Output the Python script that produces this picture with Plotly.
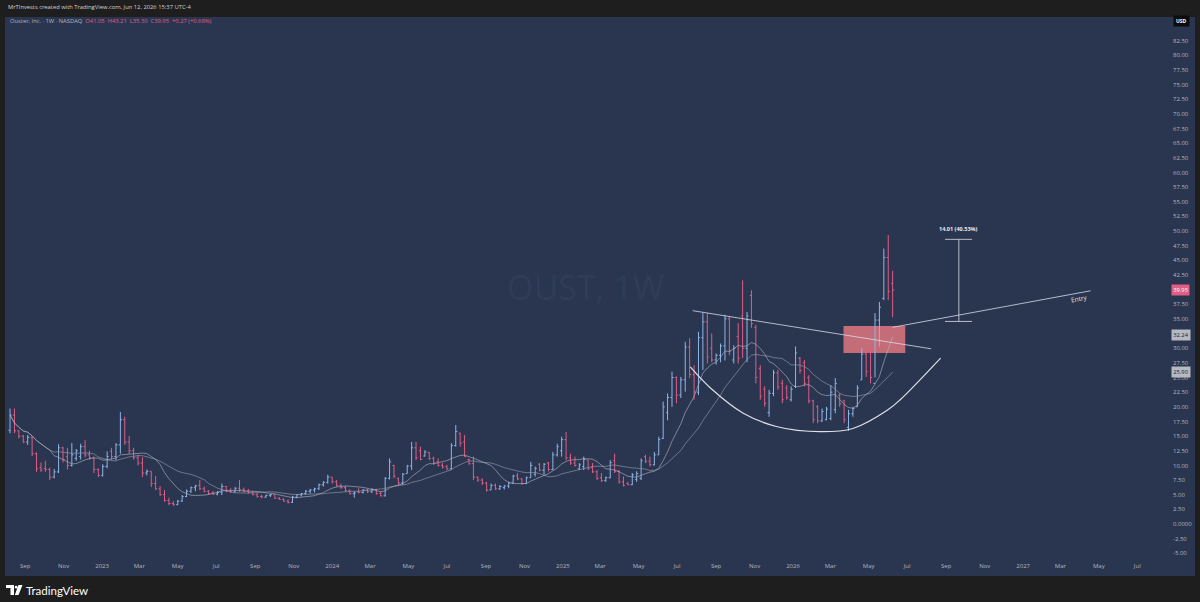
import pandas as pd
import numpy as np
import plotly.graph_objects as go

# ---------------- data (weekly OHLC, OUST) ----------------
week_start = "2022-08-08"
opens = [16.0, 18.6, 15.9, 15.0, 14.0, 14.8, 12.0, 9.6, 9.5, 9.3,
         8.0, 8.9, 13.0, 11.5, 10.0, 11.2, 11.5, 13.2, 11.8, 11.3,
         9.3, 8.3, 9.8, 12.4, 11.5, 13.5, 17.8, 14.0, 12.5, 11.3,
         10.4, 8.7, 9.0, 6.9, 6.0, 5.0, 4.0, 3.5, 3.3, 3.9,
         4.7, 5.6, 6.2, 6.6, 6.0, 5.6, 5.3, 5.1, 5.4, 6.4,
         5.6, 5.5, 6.1, 5.9, 5.6, 5.4, 5.0, 4.7, 4.6, 4.9,
         5.0, 4.4, 4.2, 3.9, 3.7, 4.6, 5.0, 5.2, 5.6, 5.8,
         6.0, 6.7, 7.1, 8.0, 7.2, 6.6, 6.2, 5.7, 5.2, 5.5,
         5.4, 5.8, 5.5, 5.9, 5.2, 4.8, 7.8, 10.0, 7.8, 7.0,
         8.6, 9.9, 13.0, 12.5, 11.6, 12.2, 11.2, 10.6, 10.0, 9.8,
         9.4, 13.4, 15.5, 14.0, 11.0, 10.3, 8.0, 7.5, 7.0, 5.8,
         6.6, 6.0, 6.2, 6.5, 7.0, 8.2, 7.7, 6.9, 7.9, 8.5,
         10.2, 9.2, 10.4, 9.3, 11.8, 12.5, 14.4, 11.3, 10.4, 9.4,
         9.8, 10.9, 9.6, 8.9, 7.9, 7.4, 7.9, 10.8, 9.0, 7.2,
         6.9, 6.7, 7.6, 7.8, 11.5, 10.7, 10.1, 11.8, 14.6, 19.0,
         21.6, 25.0, 22.0, 24.6, 30.2, 25.5, 22.5, 31.8, 34.5, 30.0,
         28.0, 28.8, 30.4, 35.0, 28.0, 32.0, 35.5, 30.0, 39.0, 33.5,
         26.5, 23.0, 19.0, 22.3, 25.8, 24.0, 23.2, 21.2, 23.5, 28.3,
         27.5, 25.0, 21.0, 20.0, 17.6, 17.8, 18.0, 19.5, 22.0, 21.0,
         16.5, 18.8, 20.0, 24.6, 29.0, 30.0, 24.0, 34.8, 38.5, 45.5,
         41.05]
highs = [19.7, 19.7, 16.0, 15.2, 15.2, 14.9, 12.2, 10.5, 10.8, 9.6,
         9.4, 13.6, 13.2, 13.0, 13.8, 12.8, 13.7, 14.3, 12.5, 11.5,
         9.5, 10.2, 12.4, 13.0, 13.8, 19.1, 18.3, 15.0, 13.0, 11.8,
         11.4, 9.3, 9.0, 8.2, 6.5, 5.8, 4.5, 3.9, 4.1, 4.95,
         5.9, 6.4, 6.7, 7.5, 6.4, 5.8, 5.6, 5.6, 6.9, 6.5,
         6.1, 6.3, 7.5, 6.2, 6.0, 5.6, 5.3, 5.0, 5.0, 5.1,
         5.0, 4.6, 4.4, 4.2, 4.8, 5.1, 5.3, 5.8, 6.0, 6.2,
         6.9, 7.3, 8.4, 8.0, 7.5, 6.9, 6.5, 5.9, 5.6, 6.1,
         6.0, 6.0, 6.1, 6.0, 5.5, 8.0, 11.2, 10.1, 7.9, 8.7,
         10.1, 14.0, 14.0, 13.2, 12.6, 12.3, 11.5, 11.2, 10.4, 10.1,
         13.8, 16.9, 15.6, 15.2, 11.2, 11.5, 8.1, 7.8, 7.2, 6.9,
         6.9, 6.65, 6.6, 7.2, 8.4, 8.7, 7.8, 8.1, 10.6, 9.8,
         10.4, 10.4, 10.6, 12.3, 13.7, 14.9, 15.7, 12.0, 11.5, 10.4,
         11.5, 10.9, 10.4, 9.2, 8.7, 8.1, 10.9, 12.0, 9.2, 8.1,
         7.2, 8.7, 9.0, 11.2, 11.8, 11.5, 12.3, 14.9, 20.9, 22.3,
         26.0, 25.2, 25.1, 31.1, 31.7, 27.1, 32.8, 36.0, 36.0, 32.5,
         29.1, 30.8, 35.7, 35.4, 30.5, 34.3, 41.6, 36.2, 39.9, 34.0,
         27.1, 23.5, 22.9, 26.3, 26.3, 24.6, 23.7, 23.5, 30.3, 28.5,
         28.0, 25.4, 21.2, 20.3, 19.7, 20.0, 23.7, 24.9, 22.3, 21.2,
         19.5, 20.0, 23.7, 30.0, 29.7, 30.3, 36.0, 37.9, 47.0, 49.3,
         43.21]
lows = [15.5, 15.5, 14.6, 13.8, 13.5, 11.6, 8.9, 8.9, 8.9, 7.5,
        7.8, 8.7, 10.5, 9.3, 9.8, 10.8, 11.0, 11.4, 11.0, 8.7,
        8.0, 8.1, 9.5, 11.0, 10.9, 12.0, 13.5, 12.0, 11.0, 10.0,
        8.0, 8.3, 6.3, 5.8, 4.8, 3.8, 3.2, 3.1, 3.2, 3.8,
        4.6, 5.3, 5.6, 5.8, 5.4, 5.0, 4.95, 4.9, 4.95, 5.4,
        5.3, 5.4, 5.5, 5.4, 5.2, 4.9, 4.5, 4.4, 4.5, 4.6,
        4.3, 4.1, 3.8, 3.5, 3.6, 4.4, 4.7, 5.0, 5.2, 5.4,
        5.8, 6.4, 6.9, 6.9, 6.4, 6.0, 5.5, 5.0, 4.5, 5.2,
        5.2, 5.3, 5.3, 5.0, 4.7, 4.7, 7.6, 7.8, 6.65, 6.65,
        8.6, 9.2, 10.9, 10.9, 11.5, 10.9, 10.1, 9.8, 9.5, 9.2,
        9.3, 13.2, 13.2, 11.5, 10.1, 7.5, 7.2, 6.65, 5.5, 5.8,
        5.8, 5.8, 5.9, 6.1, 6.9, 7.5, 6.65, 6.9, 7.9, 8.1,
        9.0, 8.4, 9.0, 9.2, 11.5, 11.5, 10.9, 10.1, 9.8, 9.2,
        9.2, 9.2, 8.7, 7.5, 7.2, 7.2, 7.8, 8.7, 6.9, 6.4,
        6.65, 6.65, 7.2, 7.5, 10.4, 9.8, 10.0, 11.8, 14.5, 17.7,
        20.0, 20.6, 21.5, 22.6, 24.9, 21.2, 22.0, 26.3, 27.4, 27.6,
        27.2, 27.6, 27.9, 28.8, 27.4, 27.4, 28.3, 27.6, 33.5, 24.0,
        21.2, 20.0, 18.3, 21.8, 22.9, 20.6, 21.2, 20.9, 23.2, 25.7,
        23.5, 20.6, 17.2, 17.2, 17.4, 17.7, 17.7, 18.9, 20.0, 17.2,
        15.9, 18.3, 20.0, 24.6, 25.1, 24.0, 25.0, 30.3, 38.2, 38.2,
        35.30]
closes = [18.6, 15.9, 15.0, 14.0, 14.8, 12.0, 9.4, 9.2, 9.3, 8.0,
          8.9, 13.0, 11.0, 10.0, 11.8, 12.5, 13.2, 11.8, 11.3, 9.3,
          8.3, 9.8, 11.5, 11.5, 13.5, 17.8, 14.0, 12.5, 11.3, 10.4,
          8.7, 9.0, 6.9, 6.0, 5.0, 4.0, 3.5, 3.3, 3.9, 4.7,
          5.6, 6.2, 6.5, 6.0, 5.6, 5.2, 5.1, 5.4, 6.4, 5.6,
          5.5, 6.1, 5.8, 5.6, 5.4, 5.0, 4.7, 4.6, 4.9, 5.0,
          4.4, 4.2, 3.9, 3.7, 4.6, 5.0, 5.2, 5.6, 5.8, 6.0,
          6.7, 7.1, 8.0, 7.2, 6.6, 6.2, 5.7, 5.2, 5.3, 5.4,
          5.8, 5.5, 5.9, 5.2, 4.8, 7.8, 10.6, 8.2, 7.0, 8.5,
          9.9, 13.0, 11.3, 11.0, 12.3, 11.2, 10.4, 10.0, 9.7, 9.4,
          13.4, 15.8, 13.8, 11.5, 10.3, 8.0, 7.5, 7.0, 5.8, 6.6,
          6.0, 6.4, 6.5, 7.0, 8.2, 7.7, 6.9, 7.9, 10.0, 9.5,
          9.2, 10.2, 9.3, 11.8, 13.2, 14.4, 11.3, 10.4, 10.0, 10.1,
          11.0, 9.5, 8.9, 7.8, 7.4, 7.9, 10.5, 9.0, 7.2, 6.6,
          6.7, 8.4, 8.6, 10.8, 10.7, 10.1, 11.8, 14.4, 20.0, 21.6,
          25.0, 22.0, 24.6, 30.2, 25.5, 22.5, 31.8, 34.5, 28.5, 28.0,
          28.8, 30.4, 35.0, 29.5, 30.0, 28.3, 30.0, 35.5, 34.2, 25.0,
          21.8, 20.6, 22.3, 25.8, 23.4, 21.2, 21.6, 23.0, 29.2, 26.2,
          24.0, 21.0, 17.8, 17.6, 19.2, 19.6, 22.5, 24.0, 20.5, 17.8,
          18.8, 19.7, 23.2, 29.0, 26.0, 25.0, 34.8, 37.0, 45.5, 39.68,
          39.95]

# axis ticks
tick_dates = ["2022-09-01", "2022-11-01",
              "2023-01-01", "2023-03-01", "2023-05-01", "2023-07-01", "2023-09-01", "2023-11-01",
              "2024-01-01", "2024-03-01", "2024-05-01", "2024-07-01", "2024-09-01", "2024-11-01",
              "2025-01-01", "2025-03-01", "2025-05-01", "2025-07-01", "2025-09-01", "2025-11-01",
              "2026-01-01", "2026-03-01", "2026-05-01", "2026-07-01", "2026-09-01", "2026-11-01",
              "2027-01-01", "2027-03-01", "2027-05-01", "2027-07-01"]
tick_labels = ["Sep", "Nov",
               "2023", "Mar", "May", "Jul", "Sep", "Nov",
               "2024", "Mar", "May", "Jul", "Sep", "Nov",
               "2025", "Mar", "May", "Jul", "Sep", "Nov",
               "2026", "Mar", "May", "Jul", "Sep", "Nov",
               "2027", "Mar", "May", "Jul"]
price_ticks = [round(v, 2) for v in np.arange(-5.0, 82.51, 2.5)]
price_tick_labels = ["0.0000" if v == 0 else f"{v:.2f}" for v in price_ticks]

# drawings
neck_dates = ["2025-07-26", "2026-08-08"]
neck_prices = [36.4, 29.9]
entry_dates = ["2026-06-08", "2027-04-18"]
entry_prices = [33.57, 39.8]
zone_dates = ["2026-03-22", "2026-06-28"]
zone_prices = [29.2, 33.8]
measure_date = "2026-09-21"
measure_cap_dates = ["2026-08-30", "2026-10-12"]
measure_prices = [34.57, 48.58]
cup_dates = ["2025-07-22", "2025-08-23", "2025-10-14", "2025-12-07", "2026-02-13",
             "2026-04-06", "2026-05-31", "2026-06-20", "2026-08-23"]
cup_prices = [26.8, 23.2, 18.9, 16.6, 15.75, 16.3, 19.45, 21.2, 28.3]

# ---------------- figure ----------------
dates = pd.date_range(week_start, periods=len(closes), freq="7D")
s = pd.Series(closes)
sma10 = s.rolling(10, min_periods=1).mean()
sma20 = s.rolling(20, min_periods=1).mean()

NAVY = "#2a3550"
DARK = "#1e1e1e"
GRAY = "#b2b5be"
UP = "#8fb6e6"
DOWN = "#e05d86"
FONT = "Open Sans"

W, H = 1200, 602
ML, MR, MT, MB = 5, 35, 17, 45
PW, PH = W - ML - MR, H - MT - MB


def fx(px):
    return (px - ML) / PW


def fy(py):
    return 1 - (py - MT) / PH


fig = go.Figure()

fig.add_trace(go.Scatter(x=dates, y=sma20, mode="lines",
                         line=dict(color="rgba(150,156,170,0.7)", width=0.9),
                         hoverinfo="skip", showlegend=False))
fig.add_trace(go.Scatter(x=dates, y=sma10, mode="lines",
                         line=dict(color="rgba(175,180,192,0.7)", width=0.9),
                         hoverinfo="skip", showlegend=False))

fig.add_trace(go.Ohlc(x=dates, open=opens, high=highs, low=lows, close=closes,
                      increasing=dict(line=dict(color=UP, width=1)),
                      decreasing=dict(line=dict(color=DOWN, width=1)),
                      tickwidth=0.35, hoverinfo="skip", showlegend=False))

fig.add_trace(go.Scatter(x=cup_dates, y=cup_prices, mode="lines",
                         line=dict(color="rgba(235,238,245,0.92)", width=1.2, shape="spline", smoothing=1.0),
                         hoverinfo="skip", showlegend=False))

shapes = []
# chart panel background
shapes.append(dict(type="rect", xref="paper", yref="paper", x0=fx(5), x1=fx(1195),
                   y0=fy(576), y1=fy(17), fillcolor=NAVY, line=dict(width=0), layer="below"))
# pink zone
shapes.append(dict(type="rect", xref="x", yref="y", x0=zone_dates[0], x1=zone_dates[1],
                   y0=zone_prices[0], y1=zone_prices[1], fillcolor="#c46c77",
                   line=dict(width=0), layer="below"))
LINEC = "rgba(215,220,230,0.8)"
shapes.append(dict(type="line", xref="x", yref="y", x0=neck_dates[0], x1=neck_dates[1],
                   y0=neck_prices[0], y1=neck_prices[1], line=dict(color=LINEC, width=1)))
shapes.append(dict(type="line", xref="x", yref="y", x0=entry_dates[0], x1=entry_dates[1],
                   y0=entry_prices[0], y1=entry_prices[1], line=dict(color=LINEC, width=1)))
MEASC = "rgba(200,203,212,0.9)"
shapes.append(dict(type="line", xref="x", yref="y", x0=measure_date, x1=measure_date,
                   y0=measure_prices[0], y1=measure_prices[1], line=dict(color=MEASC, width=1)))
for p in measure_prices:
    shapes.append(dict(type="line", xref="x", yref="y", x0=measure_cap_dates[0], x1=measure_cap_dates[1],
                       y0=p, y1=p, line=dict(color=MEASC, width=1)))

# TradingView logo glyph (bottom-left)
def rect_px(x0, y0, x1, y1, color="white"):
    return dict(type="rect", xref="paper", yref="paper", x0=fx(x0), x1=fx(x1),
                y0=fy(y1), y1=fy(y0), fillcolor=color, line=dict(width=0))

shapes.append(rect_px(6, 585, 14, 588))
shapes.append(rect_px(10.5, 585, 14, 595))
shapes.append(dict(type="circle", xref="paper", yref="paper", x0=fx(14.8), x1=fx(17.6),
                   y0=fy(588.6), y1=fy(585.8), fillcolor="white", line=dict(width=0)))
shapes.append(dict(type="path", xref="paper", yref="paper",
                   path=f"M {fx(18.5)},{fy(585)} L {fx(22.5)},{fy(585)} L {fx(18.5)},{fy(595)} L {fx(14.8)},{fy(595)} Z",
                   fillcolor="white", line=dict(width=0)))

ann = []
# top header
ann.append(dict(xref="paper", yref="paper", x=fx(6), y=fy(7.5), xanchor="left", yanchor="middle",
                text="MrTInvests created with TradingView.com, Jun 12, 2026 15:37 UTC-4",
                showarrow=False, font=dict(family=FONT, size=5.8, color="#d1d4dc")))
# legend line
ann.append(dict(xref="paper", yref="paper", x=fx(8), y=fy(21), xanchor="left", yanchor="middle",
                text=("Ouster, Inc. · 1W · NASDAQ  "
                      f"<span style='color:{DOWN}'>O41.05  H43.21  L35.30  C39.95  +0.27 (+0.68%)</span>"),
                showarrow=False, font=dict(family=FONT, size=5.8, color=GRAY)))
# watermark
ann.append(dict(xref="paper", yref="paper", x=0.5, y=0.5, xanchor="center", yanchor="middle",
                text="OUST, 1W", showarrow=False,
                font=dict(family=FONT, size=34, color="rgba(255,255,255,0.055)")))
# measure label
ann.append(dict(xref="x", yref="y", x=measure_date, y=50.3, text="<b>14.01 (40.53%)</b>",
                showarrow=False, xanchor="center", yanchor="middle",
                font=dict(family=FONT, size=5.5, color="#e8eaf0")))
# Entry label
ann.append(dict(xref="x", yref="y", x="2027-04-01", y=38.4, text="Entry", textangle=-10,
                showarrow=False, xanchor="center", yanchor="middle",
                font=dict(family=FONT, size=6.5, color="#e0e3ea")))
# price axis labels
ann.append(dict(xref="paper", yref="paper", x=fx(1181), y=fy(21.5), text="<b>USD</b>", showarrow=False,
                xanchor="center", yanchor="middle", bgcolor="#0c0c0c", borderpad=2,
                font=dict(family=FONT, size=5, color="white")))
for val, bg, fc in [(39.95, DOWN, "white"), (32.24, "#b6b9c2", "#1e222d"), (25.90, "#b6b9c2", "#1e222d")]:
    ann.append(dict(xref="paper", yref="y", x=fx(1180.5), y=val, text=f"{val:.2f}", showarrow=False,
                    xanchor="center", yanchor="middle", bgcolor=bg, borderpad=1.2,
                    font=dict(family=FONT, size=5.8, color=fc)))
# TradingView brand
ann.append(dict(xref="paper", yref="paper", x=fx(24), y=fy(590), text="TradingView", showarrow=False,
                xanchor="left", yanchor="middle",
                font=dict(family="Lato", size=11.5, color="white")))

fig.update_layout(
    width=W, height=H, autosize=False,
    margin=dict(l=ML, r=MR, t=MT, b=MB, pad=0),
    paper_bgcolor=DARK, plot_bgcolor=NAVY,
    showlegend=False, shapes=shapes, annotations=ann,
    font=dict(family=FONT, color=GRAY),
    xaxis=dict(type="date", range=["2022-07-31", "2027-08-14"], rangeslider=dict(visible=False),
               tickmode="array", tickvals=tick_dates, ticktext=tick_labels,
               showgrid=False, zeroline=False, showline=False, ticks="",
               tickfont=dict(family=FONT, size=6, color=GRAY), ticklabelstandoff=4),
    yaxis=dict(side="right", range=[-5.63, 86.52], tickmode="array",
               tickvals=price_ticks, ticktext=price_tick_labels,
               showgrid=False, zeroline=False, showline=False, ticks="",
               tickfont=dict(family=FONT, size=6, color=GRAY), ticklabelstandoff=7),
)

fig.write_html("out.html", config={"displayModeBar": False},
               post_script="document.body.style.margin='0';")
